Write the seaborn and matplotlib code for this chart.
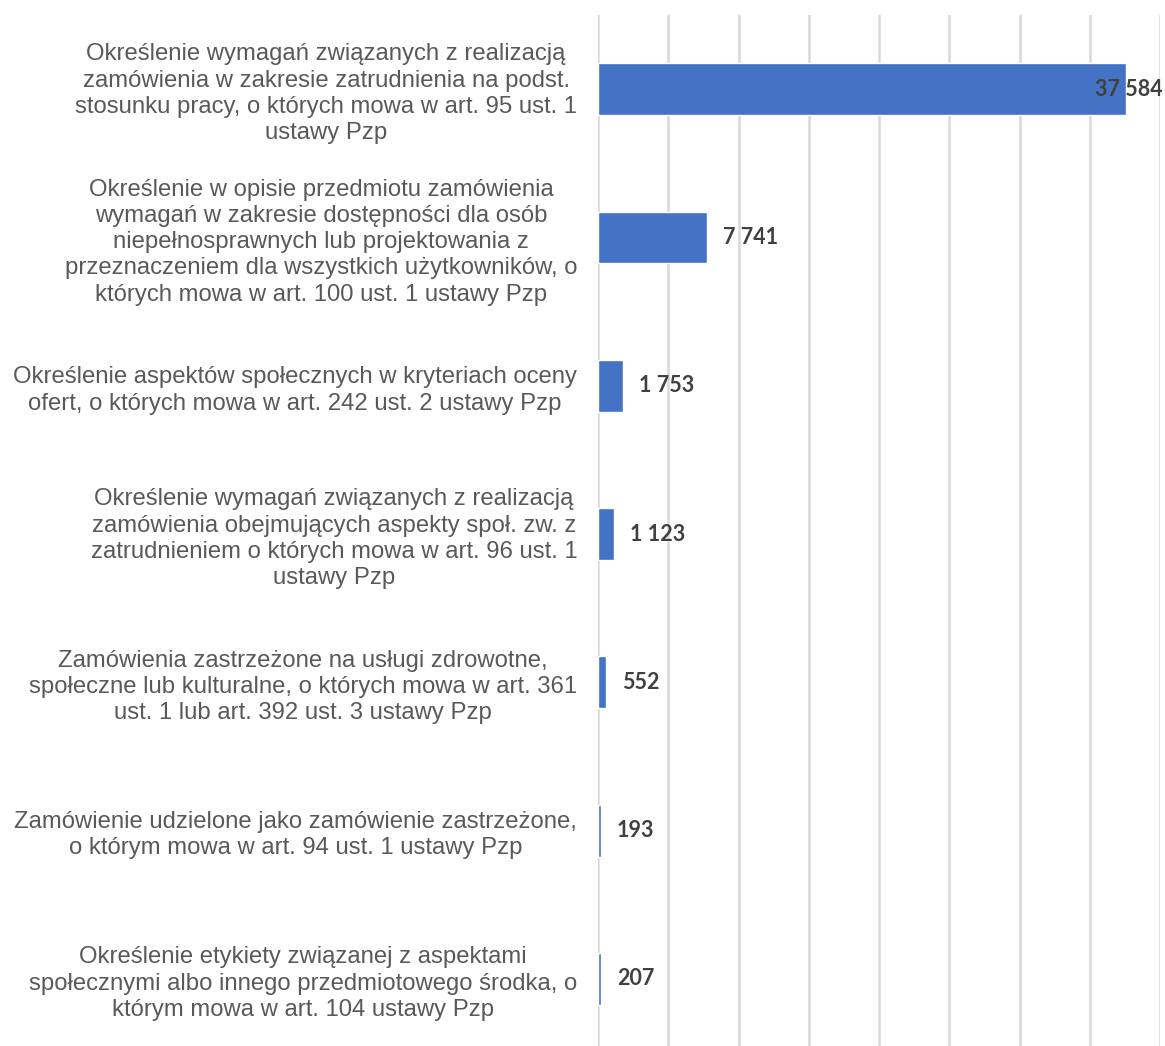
import matplotlib
matplotlib.use("Agg")
import matplotlib.pyplot as plt
import seaborn as sns
import pandas as pd

categories = [
    "Określenie wymagań związanych z realizacją\nzamówienia w zakresie zatrudnienia na podst.\nstosunku pracy, o których mowa w art. 95 ust. 1\nustawy Pzp",
    "Określenie w opisie przedmiotu zamówienia\nwymagań w zakresie dostępności dla osób\nniepełnosprawnych lub projektowania z\nprzeznaczeniem dla wszystkich użytkowników, o\nktórych mowa w art. 100 ust. 1 ustawy Pzp",
    "Określenie aspektów społecznych w kryteriach oceny\nofert, o których mowa w art. 242 ust. 2 ustawy Pzp",
    "Określenie wymagań związanych z realizacją\nzamówienia obejmujących aspekty społ. zw. z\nzatrudnieniem o których mowa w art. 96 ust. 1\nustawy Pzp",
    "Zamówienia zastrzeżone na usługi zdrowotne,\nspołeczne lub kulturalne, o których mowa w art. 361\nust. 1 lub art. 392 ust. 3 ustawy Pzp",
    "Zamówienie udzielone jako zamówienie zastrzeżone,\no którym mowa w art. 94 ust. 1 ustawy Pzp",
    "Określenie etykiety związanej z aspektami\nspołecznymi albo innego przedmiotowego środka, o\nktórym mowa w art. 104 ustawy Pzp",
]
values = [37584, 7741, 1753, 1123, 552, 193, 207]
x_ticks = [0, 5000, 10000, 15000, 20000, 25000, 30000, 35000, 40000]

df = pd.DataFrame({"kategoria": categories, "liczba": values})

sns.set_theme(style="white")
plt.rcParams["font.family"] = ["Liberation Sans", "DejaVu Sans"]

fig = plt.figure(figsize=(11.65, 10.46), dpi=100)
ax = fig.add_axes([598 / 1165, 0.0, (1160 - 598) / 1165, (1046 - 15) / 1046])

sns.barplot(data=df, x="liczba", y="kategoria", orient="h", color="#4472C4",
            saturation=1, width=0.35, ax=ax, zorder=3)

ax.set_xlim(0, 40000)
ax.set_ylim(6.452, -0.5)
ax.set_xticks(x_ticks)
ax.xaxis.grid(True, color="#D9D9D9", linewidth=1.8, zorder=0)
ax.set_axisbelow(True)
ax.tick_params(axis="x", length=0, labelbottom=False)
ax.tick_params(axis="y", length=0, pad=15)
for s in ax.spines.values():
    s.set_visible(False)
ax.set_xlabel("")
ax.set_ylabel("")

for lbl in ax.get_yticklabels():
    lbl.set_multialignment("center")
    lbl.set_fontsize(17.2)
    lbl.set_color("#595959")
    lbl.set_linespacing(1.25)

vmax = max(values)
for i, v in enumerate(values):
    txt = f"{v:,}".replace(",", " ")
    style = dict(fontsize=15.5, fontweight="bold", color="#404040",
                 family=["Lato", "DejaVu Sans"], va="center", zorder=4)
    if v == vmax:
        ax.annotate(txt, xy=(1.005, i), xycoords=("axes fraction", "data"),
                    ha="right", annotation_clip=False, **style)
    else:
        ax.annotate(txt, xy=(v, i), xytext=(11.5, 0), textcoords="offset points",
                    ha="left", **style)

fig.savefig("out.png", dpi=100, facecolor="white")
